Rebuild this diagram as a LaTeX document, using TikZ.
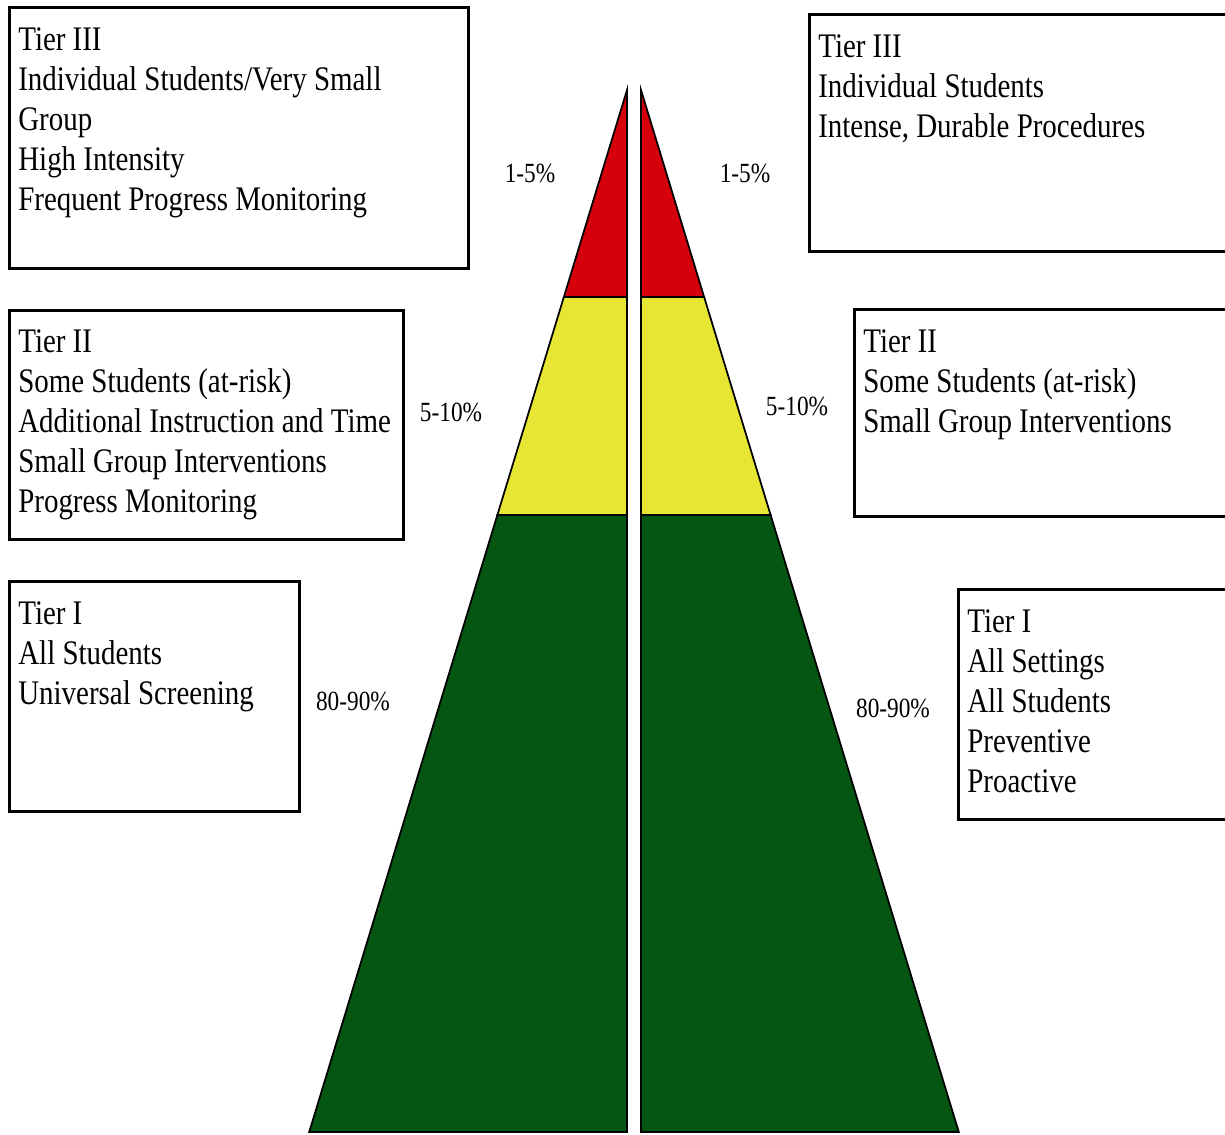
\documentclass[tikz,border=0pt]{standalone}
\usepackage{fontspec}
\setmainfont{Liberation Serif}
\newfontfamily\tierfont{Liberation Serif}[FakeStretch=0.84]
\usetikzlibrary{positioning}
\definecolor{tierred}{RGB}{214,0,12}
\definecolor{tieryellow}{RGB}{232,230,52}
\definecolor{tiergreen}{RGB}{4,86,18}

\begin{document}
\begin{tikzpicture}[x=0.02cm, y=-0.02cm,
    tierbox/.style={draw, line width=1.6pt, rectangle, anchor=north west, inner sep=0pt},
    tiertext/.style={align=left, anchor=north west, inner sep=0pt, font=\tierfont\fontsize{19.6}{22.8}\selectfont},
    pct/.style={inner sep=0pt, font=\tierfont\fontsize{15.8}{18}\selectfont}]
    \clip (0,0) rectangle (1225,1134);

    % pyramid, two halves split by a white gap
    \foreach \ytop/\ybot/\col in {90/297/tierred, 297/515/tieryellow, 515/1132/tiergreen} {
        \draw[fill=\col, line width=1pt, line join=miter]
            (627,\ytop) -- ({627-0.305*(\ytop-90)},\ytop) -- ({627-0.305*(\ybot-90)},\ybot) -- (627,\ybot) -- cycle;
        \draw[fill=\col, line width=1pt, line join=miter]
            (641,\ytop) -- ({641+0.305*(\ytop-90)},\ytop) -- ({641+0.305*(\ybot-90)},\ybot) -- (641,\ybot) -- cycle;
    }

    % left boxes
    \node[tierbox, minimum width=9.18cm, minimum height=5.22cm] (boxL3) at (8,6) {};
    \node[tierbox, minimum width=7.88cm, minimum height=4.58cm] (boxL2) at (8,309) {};
    \node[tierbox, minimum width=5.8cm, minimum height=4.6cm] (boxL1) at (8,580) {};
    % right boxes
    \node[tierbox, minimum width=8.64cm, minimum height=4.74cm] (boxR3) at (808,13) {};
    \node[tierbox, minimum width=7.74cm, minimum height=4.14cm] (boxR2) at (853,308) {};
    \node[tierbox, minimum width=5.66cm, minimum height=4.6cm] (boxR1) at (957,588) {};

    \node[tiertext] (txtL3) at ([shift={(10,21)}]boxL3.north west)
        {Tier III\\Individual Students/Very Small\\Group\\High Intensity\\Frequent Progress Monitoring};
    \node[tiertext] (txtL2) at ([shift={(10,20)}]boxL2.north west)
        {Tier II\\Some Students (at-risk)\\Additional Instruction and Time\\Small Group Interventions\\Progress Monitoring};
    \node[tiertext] (txtL1) at ([shift={(10,21)}]boxL1.north west)
        {Tier I\\All Students\\Universal Screening};
    \node[tiertext] (txtR3) at ([shift={(10,21)}]boxR3.north west)
        {Tier III\\Individual Students\\Intense, Durable Procedures};
    \node[tiertext] (txtR2) at ([shift={(10,21)}]boxR2.north west)
        {Tier II\\Some Students (at-risk)\\Small Group Interventions};
    \node[tiertext] (txtR1) at ([shift={(10,21)}]boxR1.north west)
        {Tier I\\All Settings\\All Students\\Preventive\\Proactive};

    % percentages
    \node[pct] (pL3) at (530,173) {1-5\%};
    \node[pct] (pR3) at (745,173) {1-5\%};
    \node[pct] (pL2) at (451,412) {5-10\%};
    \node[pct] (pR2) at (797,406) {5-10\%};
    \node[pct] (pL1) at (353,701) {80-90\%};
    \node[pct] (pR1) at (893,708) {80-90\%};
\end{tikzpicture}
\end{document}
